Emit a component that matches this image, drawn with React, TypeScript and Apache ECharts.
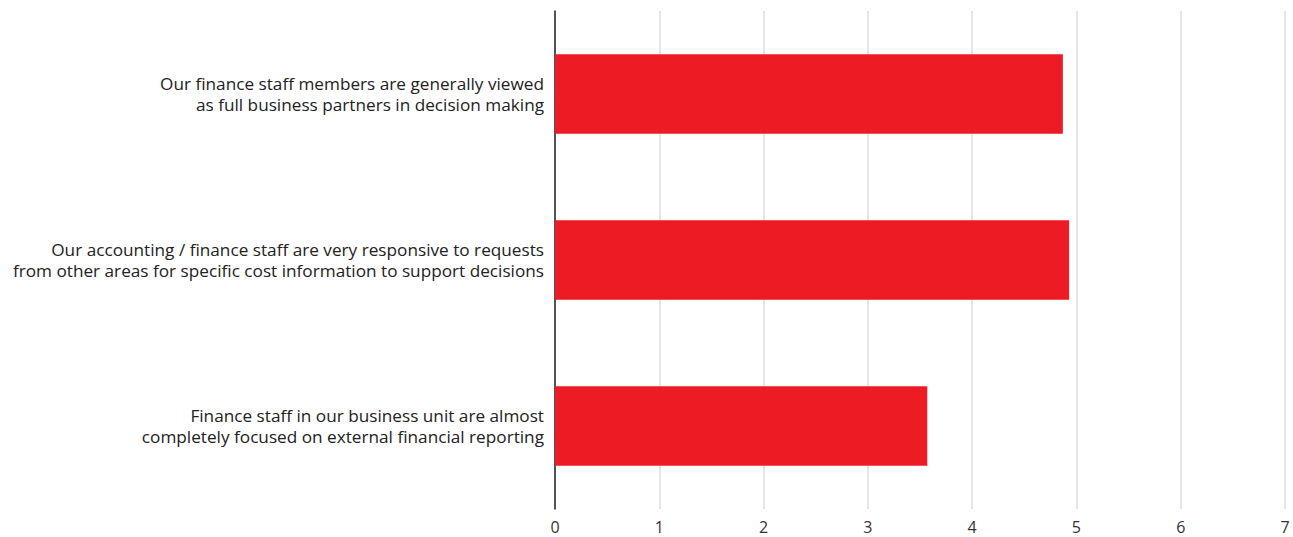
import React, { useEffect, useRef } from "react";
import * as echarts from "echarts";

const categories = [
  "Finance staff in our business unit are almost\ncompletely focused on external financial reporting",
  "Our accounting / finance staff are very responsive to requests\nfrom other areas for specific cost information to support decisions",
  "Our finance staff members are generally viewed\nas full business partners in decision making",
];
const values = [3.57, 4.93, 4.87];
const xTicks = { min: 0, max: 7, interval: 1 };

export default function App() {
  const ref = useRef<HTMLDivElement>(null);
  useEffect(() => {
    const chart = echarts.init(ref.current!, null, { renderer: "svg" });
    chart.setOption({
      animation: false,
      textStyle: { fontFamily: "Open Sans" },
      grid: { left: 555, right: 8, top: 11, bottom: 28 },
      xAxis: {
        type: "value",
        min: xTicks.min,
        max: xTicks.max,
        interval: xTicks.interval,
        axisLine: { show: false },
        axisTick: { show: false },
        splitLine: { show: true, lineStyle: { color: "#dcdcdc", width: 1.5 } },
        axisLabel: { color: "#333333", fontSize: 16, margin: 10, fontFamily: "Open Sans", fontWeight: "normal" },
      },
      yAxis: {
        type: "category",
        data: categories,
        axisLine: { show: true, lineStyle: { color: "#222", width: 1.5 } },
        axisTick: { show: false },
        axisLabel: {
          color: "#222",
          fontSize: 17.2,
          lineHeight: 21,
          margin: 11,
          fontFamily: "Open Sans",
        },
      },
      series: [
        {
          type: "bar",
          data: values,
          barWidth: "48%",
          itemStyle: { color: "#ED1C24" },
        },
      ],
    });
    return () => chart.dispose();
  }, []);
  return (
    <div
      ref={ref}
      style={{ position: "absolute", left: 0, top: 0, width: 1293, height: 537 }}
    />
  );
}
